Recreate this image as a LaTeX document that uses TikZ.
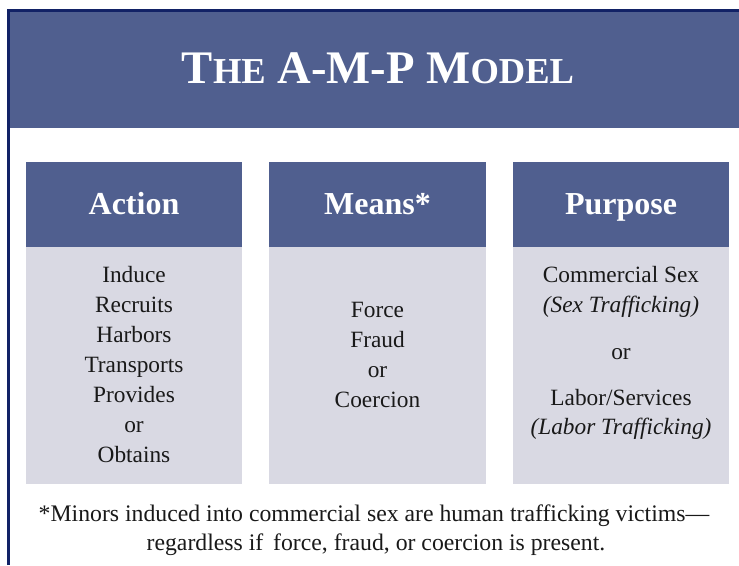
\documentclass[tikz,border=0pt]{standalone}
\usepackage{fontspec}
\setmainfont{Liberation Serif}
\definecolor{bannerblue}{RGB}{80,95,143}
\definecolor{bodygrey}{RGB}{217,217,227}
\definecolor{framenavy}{RGB}{18,34,102}
\newcommand{\bigc}[1]{{\fontsize{35}{35}\selectfont #1}}
\newcommand{\smc}[1]{{\fontsize{27.4}{27.4}\selectfont #1}}
\begin{document}
\begin{tikzpicture}[x=0.75pt,y=-0.75pt,
  headfill/.style={fill=bannerblue},
  bodyfillst/.style={fill=bodygrey},
  titletext/.style={text=white,inner sep=0pt,anchor=base,font=\fontsize{35}{35}\selectfont\bfseries},
  headtext/.style={text=white,inner sep=0pt,anchor=base,font=\fontsize{24}{24}\selectfont\bfseries},
  bodytext/.style={text=black!90,inner sep=0pt,anchor=base,font=\fontsize{17.5}{17.5}\selectfont},
  foottext/.style={text=black!90,inner sep=0pt,anchor=base,font=\fontsize{17.8}{17.8}\selectfont}]
\useasboundingbox (0,0) rectangle (739,565);
\fill[white] (0,0) rectangle (739,565);
% banner and frame
\fill[bannerblue] (9,11) rectangle (739,128);
\draw[framenavy,line width=1.9pt] (8.3,565) -- (8.3,10.3) -- (739,10.3);
\node[titletext] (title) at (378,83) {\bigc{T}\smc{HE} \bigc{A-M-P M}\smc{ODEL}};
% columns
\fill[headfill] (26,162) rectangle (242,247);
\fill[bodyfillst] (26,247) rectangle (242,484);
\fill[headfill] (269,162) rectangle (486,247);
\fill[bodyfillst] (269,247) rectangle (486,484);
\fill[headfill] (513,162) rectangle (729,247);
\fill[bodyfillst] (513,247) rectangle (729,484);
\node[headtext] (hA) at (134,214) {Action};
\node[headtext] (hM) at (377.5,214) {Means*};
\node[headtext] (hP) at (621,214) {Purpose};
% Action
\foreach \t [count=\i] in {Induce,Recruits,Harbors,Transports,Provides,or,Obtains}
  \node[bodytext] (a\i) at (134,{282.5+30*(\i-1)}) {\t};
% Means
\foreach \t [count=\i] in {Force,Fraud,or,Coercion}
  \node[bodytext] (m\i) at (377.5,{317.5+30*(\i-1)}) {\t};
% Purpose
\node[bodytext] (p1) at (621,282.5) {Commercial Sex};
\node[bodytext] (p2) at (621,312.5) {\textit{(Sex Trafficking)}};
\node[bodytext] (p3) at (621,359.5) {or};
\node[bodytext] (p4) at (621,405) {Labor/Services};
\node[bodytext] (p5) at (621,434) {\textit{(Labor Trafficking)}};
% footnote
\node[foottext] (f1) at (374,521.5) {*Minors induced into commercial sex are human trafficking victims—};
\node[foottext] (f2) at (376,550) {regardless if\, force, fraud, or coercion is present.};
\end{tikzpicture}
\end{document}
